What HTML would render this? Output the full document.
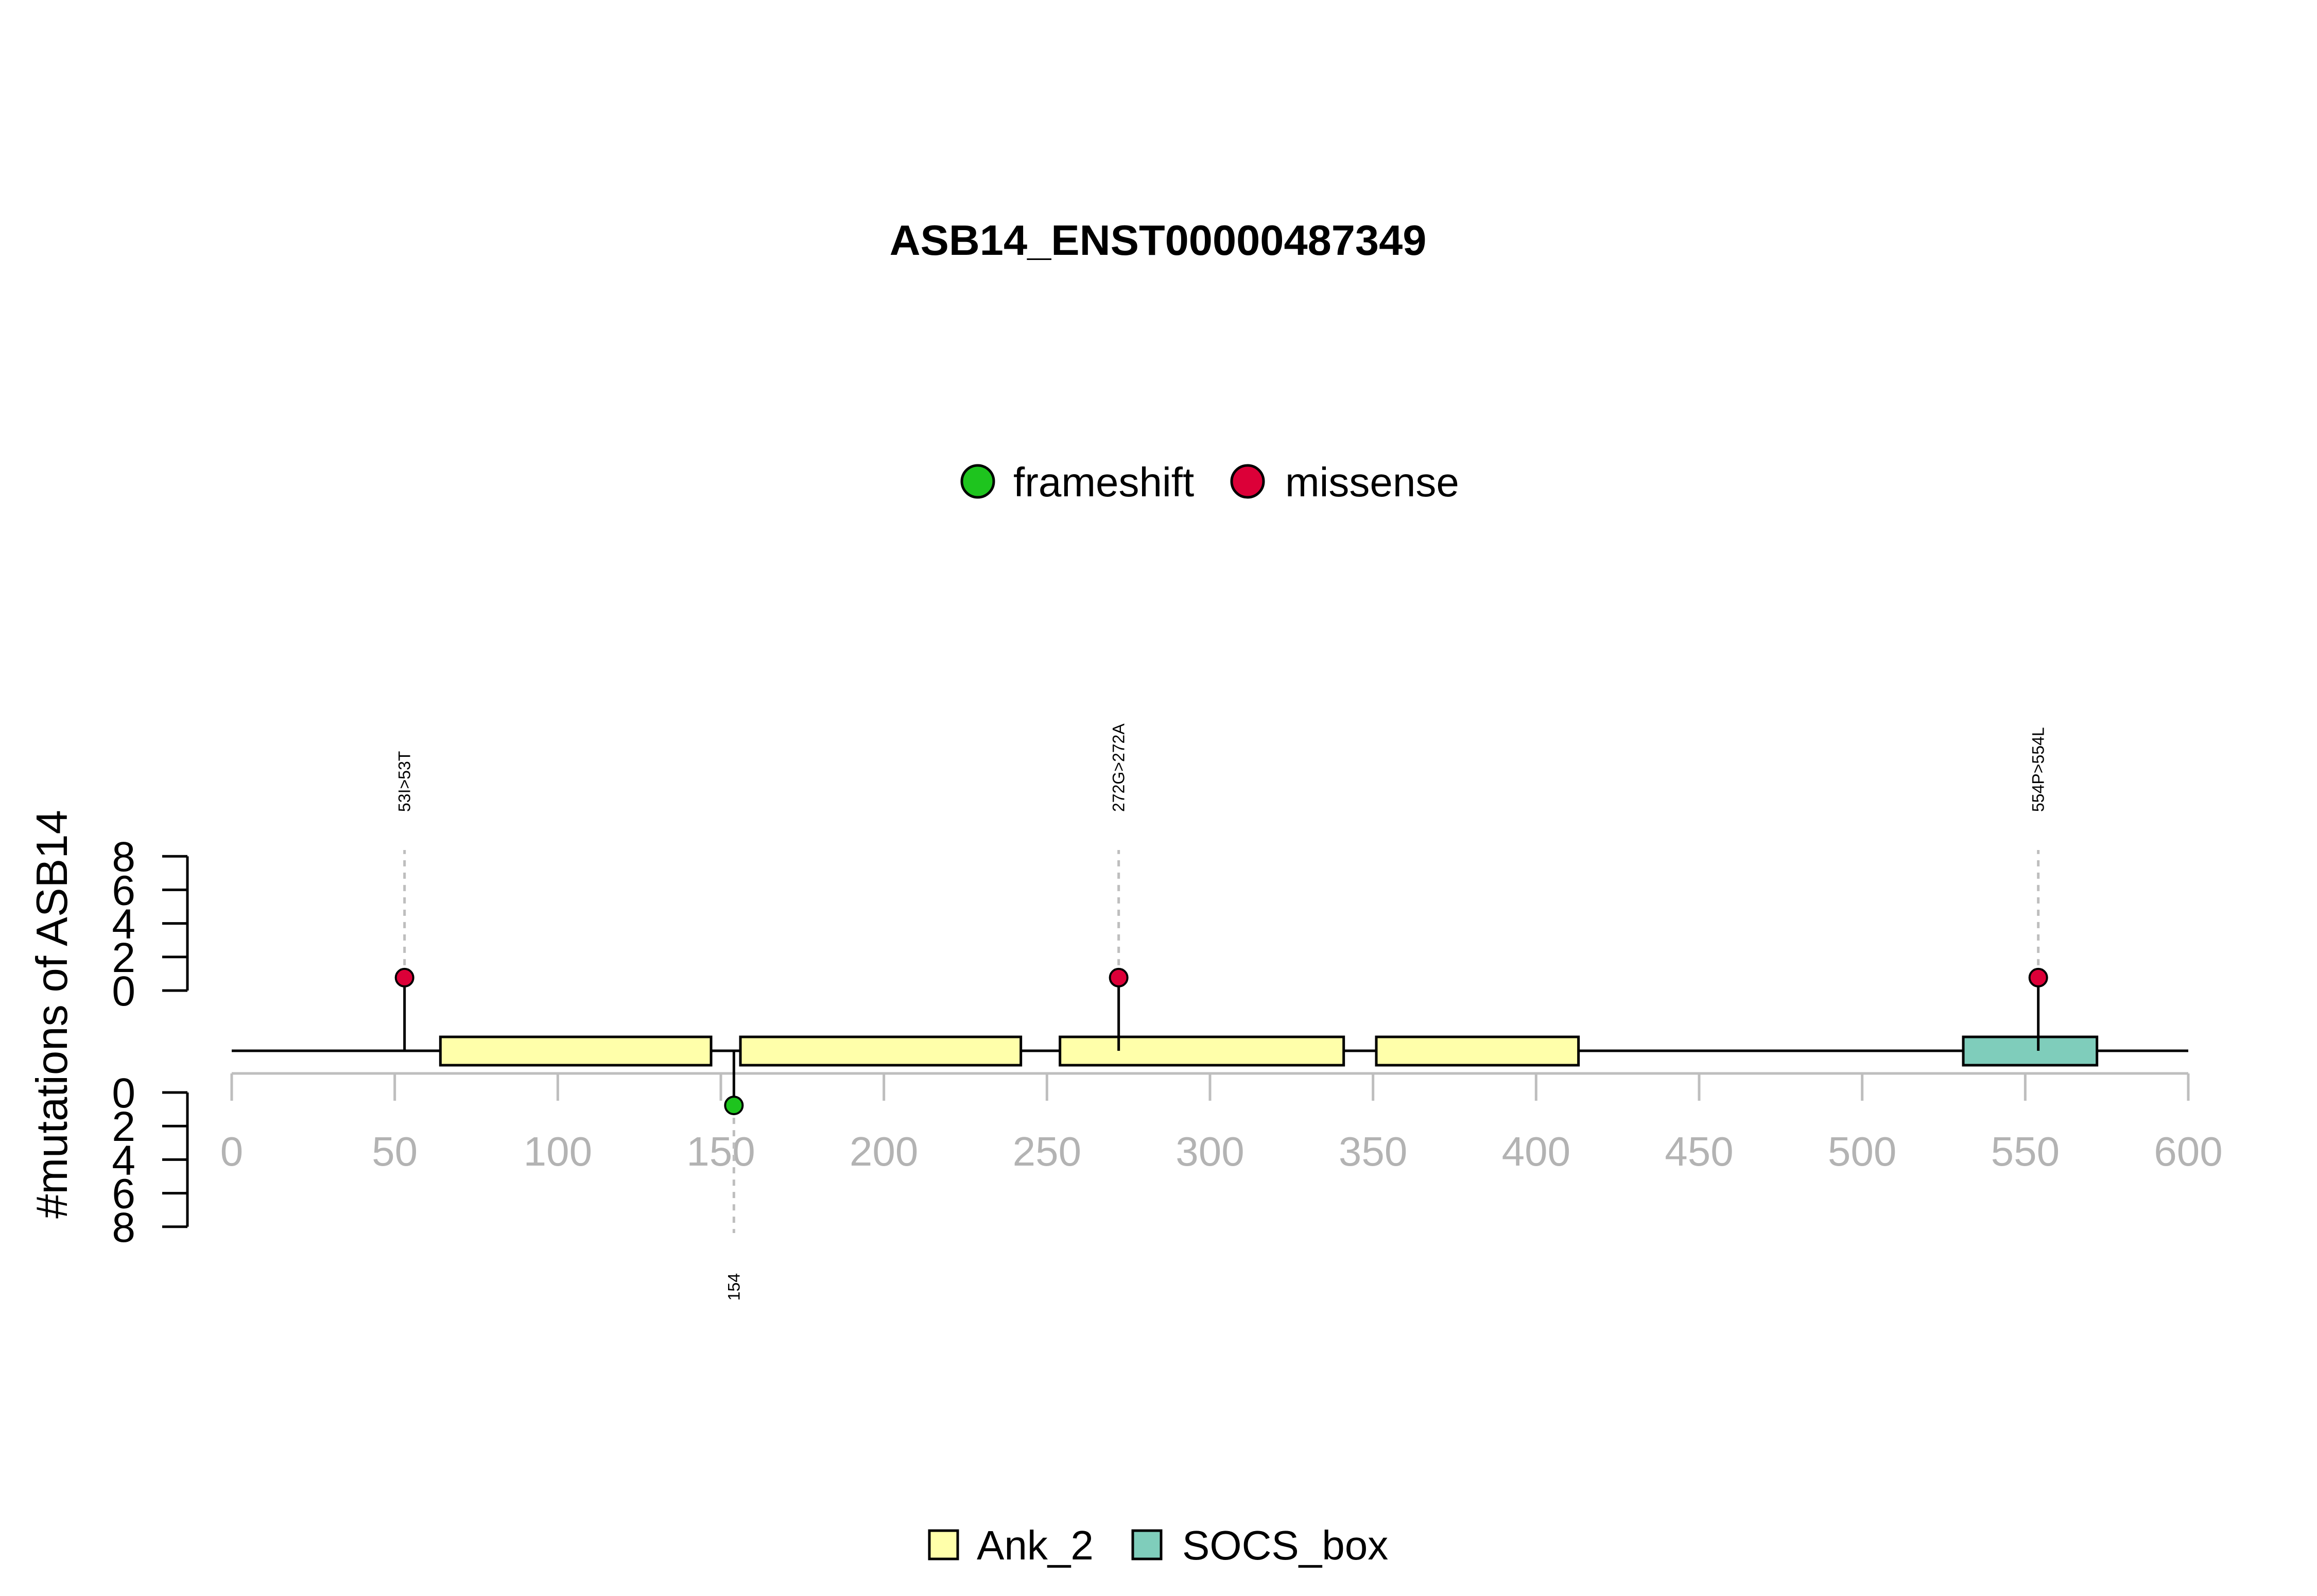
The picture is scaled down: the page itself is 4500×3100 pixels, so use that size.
<!DOCTYPE html>
<html><head><meta charset="utf-8"><style>
html,body{margin:0;padding:0;background:#fff;}
svg{display:block;font-family:"Liberation Sans",Arial,sans-serif;}
</style></head><body>
<svg id="chart" width="4500" height="3100" viewBox="0 0 4500 3100" xmlns="http://www.w3.org/2000/svg">
<rect width="4500" height="3100" fill="#fff"/>
<text x="2249" y="495" font-size="83" font-weight="bold" text-anchor="middle">ASB14_ENST00000487349</text>
<g>
<circle cx="1899" cy="935" r="31" fill="#1EC41E" stroke="#000" stroke-width="5"/>
<text x="1968" y="964" font-size="80">frameshift</text>
<circle cx="2423" cy="935" r="31" fill="#DC0038" stroke="#000" stroke-width="5"/>
<text x="2496" y="964" font-size="80">missense</text>
</g>
<g>
<rect x="1805" y="2973" width="55" height="55" fill="#FFFFAA" stroke="#000" stroke-width="5"/>
<text x="1897" y="3029" font-size="80">Ank_2</text>
<rect x="2200" y="2973" width="55" height="55" fill="#7FCDBB" stroke="#000" stroke-width="5"/>
<text x="2296" y="3029" font-size="80">SOCS_box</text>
</g>
<text transform="translate(130,1970) rotate(-90)" font-size="85" text-anchor="middle">#mutations of ASB14</text>
<g id="plot"></g>
</svg>
<script>
const xTicks=[0,50,100,150,200,250,300,350,400,450,500,550,600];
const yTicks=[0,2,4,6,8];
const domainNames=["Ank_2","Ank_2","Ank_2","Ank_2","SOCS_box"];
const domainStarts=[64,156,254,351,531];
const domainEnds=[147,242,341,413,572];
const mutPositions=[53,154,272,554];
const mutCounts=[1,1,1,1];
const mutTypes=["missense","frameshift","missense","missense"];
const mutLabels=["53I>53T","154","272G>272A","554P>554L"];
const proteinLength=600;

const NS="http://www.w3.org/2000/svg";
const g=document.getElementById('plot');
const X=v=>450+v*(3800/600);
const BASE=2041;
const yTop=c=>1924-c*32.6;
const yBot=c=>2122+c*32.6;
const colors={missense:"#DC0038",frameshift:"#1EC41E"};
const dcol={"Ank_2":"#FFFFAA","SOCS_box":"#7FCDBB"};
function el(t,a){const e=document.createElementNS(NS,t);for(const k in a)e.setAttribute(k,a[k]);g.appendChild(e);return e;}

let e=el('line',{x1:X(0),x2:X(proteinLength),y1:2085,y2:2085,stroke:'#bebebe','stroke-width':5});


xTicks.forEach(t=>{
  let l=el('line',{x1:X(t),x2:X(t),y1:2085,y2:2138,stroke:'#bebebe','stroke-width':5});
  
  
  let tx=el('text',{x:X(t),y:2264,'font-size':80,fill:'#b3b3b3','text-anchor':'middle'});
  tx.textContent=t;
  
  
});
[[yTop,'top'],[yBot,'bottom']].forEach(([f,n])=>{
  let l=el('line',{x1:364,x2:364,y1:f(0),y2:f(8),stroke:'#000','stroke-width':5});
  
  
  yTicks.forEach(t=>{
    let k=el('line',{x1:315,x2:364,y1:f(t),y2:f(t),stroke:'#000','stroke-width':5});
    
    
    let tx=el('text',{x:263,y:f(t)+29,'font-size':82,'text-anchor':'end'});
    tx.textContent=t;
    
    
  });
});
e=el('line',{x1:X(0),x2:X(proteinLength),y1:BASE,y2:BASE,stroke:'#000','stroke-width':5});


const pts=[];
mutPositions.forEach((p,i)=>{
  const up=mutTypes[i]!=="frameshift";
  const py=up?yTop(mutCounts[i]*0.77):yBot(mutCounts[i]*0.77);
  pts.push(py);
});
domainStarts.forEach((s,i)=>{
  let r=el('rect',{x:X(s),y:BASE-27,width:X(domainEnds[i])-X(s),height:55,fill:dcol[domainNames[i]],stroke:'#000','stroke-width':5});
  
  
});
mutPositions.forEach((p,i)=>{
  const up=mutTypes[i]!=="frameshift";
  const x=X(p),py=pts[i];
  let s=el('line',{x1:x,x2:x,y1:BASE,y2:py,stroke:'#000','stroke-width':5});
  
  
  let d=el('line',{x1:x,x2:x,y1:py,y2:up?1651:2395,stroke:'#bebebe','stroke-width':5,'stroke-dasharray':'12 12'});
  
  
  let c=el('circle',{cx:x,cy:py,r:17,fill:colors[mutTypes[i]],stroke:'#000','stroke-width':4});
  
  
  let ly=up?1577:2473;
  let t=el('text',{transform:`translate(${x+11},${ly}) rotate(-90)`,'font-size':32,'text-anchor':up?'start':'end'});
  t.textContent=mutLabels[i];
  
  
});
</script>
</body></html>
